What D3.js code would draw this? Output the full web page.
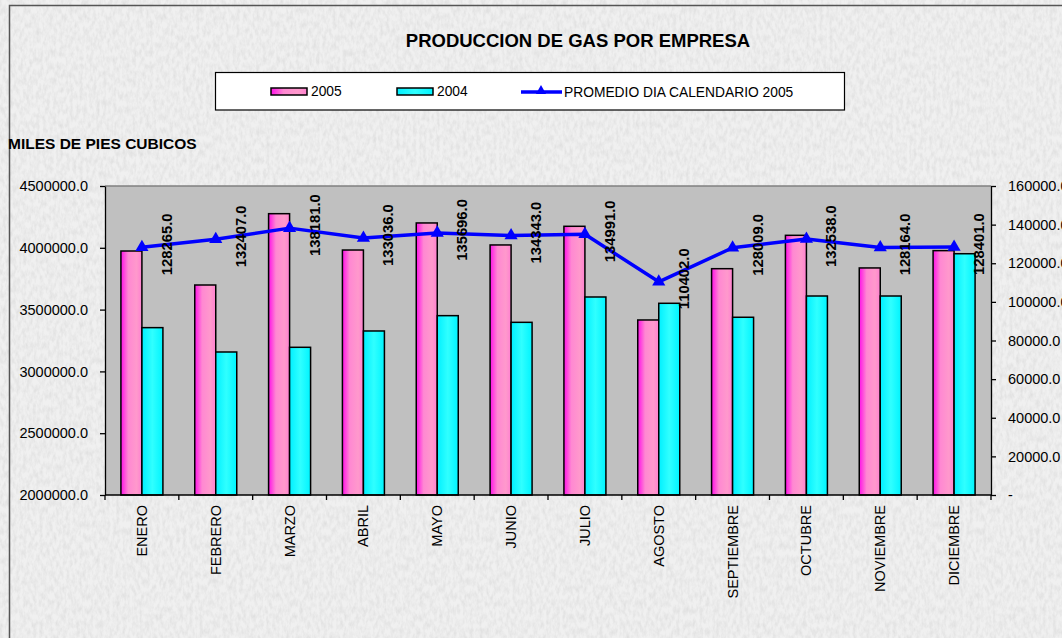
<!DOCTYPE html>
<html>
<head>
<meta charset="utf-8">
<script src="https://cdn.jsdelivr.net/npm/d3@7"></script>
<style>
  body { margin: 0; background: #ececec; overflow: hidden; }
  svg { display: block; font-family: "Liberation Sans", Arial, sans-serif; }
</style>
</head>
<body>
<div id="chart"></div>
<script>
const months = ["ENERO", "FEBRERO", "MARZO", "ABRIL", "MAYO", "JUNIO", "JULIO",
                "AGOSTO", "SEPTIEMBRE", "OCTUBRE", "NOVIEMBRE", "DICIEMBRE"];
const prod2005 = [3974000, 3699000, 4276000, 3982000, 4201000, 4023000, 4174000,
                  3416000, 3831000, 4101000, 3837000, 3977000];
const prod2004 = [3354000, 3157000, 3195000, 3327000, 3451000, 3397000, 3602000,
                  3551000, 3438000, 3610000, 3610000, 3952000];
const promedio = [128265, 132407, 138181, 133036, 135696, 134343, 134991,
                  110402, 128009, 132538, 128164, 128401];
const leftTicks = [2000000, 2500000, 3000000, 3500000, 4000000, 4500000];
const rightTicks = [0, 20000, 40000, 60000, 80000, 100000, 120000, 140000, 160000];

const W = 1062, H = 638;
const plot = {left: 105, right: 991, top: 186, bottom: 495};

const svg = d3.select("#chart").append("svg")
  .attr("width", W).attr("height", H)
  .style("overflow", "visible");

const defs = svg.append("defs");

// granite-ish paper texture
const f = defs.append("filter").attr("id", "grain")
  .attr("x", 0).attr("y", 0).attr("width", "100%").attr("height", "100%");
f.append("feTurbulence").attr("type", "fractalNoise")
  .attr("baseFrequency", "0.3 0.14").attr("numOctaves", 3).attr("seed", 11);
f.append("feColorMatrix").attr("type", "matrix")
  .attr("values", "0 0 0 0 0.6  0 0 0 0 0.6  0 0 0 0 0.6  0.8 0 0 0 -0.28");

const gPink = defs.append("linearGradient").attr("id", "pink")
  .attr("x1", 0).attr("x2", 1).attr("y1", 0).attr("y2", 0);
gPink.append("stop").attr("offset", "0%").attr("stop-color", "#ff10e8");
gPink.append("stop").attr("offset", "35%").attr("stop-color", "#ff88d2");
gPink.append("stop").attr("offset", "75%").attr("stop-color", "#ff99cc");
gPink.append("stop").attr("offset", "100%").attr("stop-color", "#ff80d0");

const gCyan = defs.append("linearGradient").attr("id", "cyan")
  .attr("x1", 0).attr("x2", 1).attr("y1", 0).attr("y2", 0);
gCyan.append("stop").attr("offset", "0%").attr("stop-color", "#00f0ff");
gCyan.append("stop").attr("offset", "50%").attr("stop-color", "#30ffff");
gCyan.append("stop").attr("offset", "100%").attr("stop-color", "#00f4ff");

// background
svg.append("rect").attr("width", W).attr("height", H).attr("fill", "#f0f0f0");
svg.append("rect").attr("width", W).attr("height", H).attr("filter", "url(#grain)");
svg.append("path")
  .attr("d", `M9.5,${H} V5.5 H${W}`)
  .attr("fill", "none").attr("stroke", "#555").attr("stroke-width", 1.5);

// title
svg.append("text")
  .attr("x", 578).attr("y", 47)
  .attr("text-anchor", "middle")
  .attr("font-size", 18.5).attr("font-weight", "bold")
  .text("PRODUCCION DE GAS POR EMPRESA");

svg.append("text")
  .attr("x", 8).attr("y", 148.5)
  .attr("font-size", 15.5).attr("font-weight", "bold")
  .text("MILES DE PIES CUBICOS");

// scales
const x = d3.scaleBand().domain(months).range([plot.left, plot.right]);
const x1 = d3.scaleBand().domain(["2005", "2004"]).range([0, 42]);
const yL = d3.scaleLinear().domain([2000000, 4500000]).range([plot.bottom, plot.top]);
const yR = d3.scaleLinear().domain([0, 160000]).range([plot.bottom, plot.top]);
const cx = m => x(m) + x.bandwidth() / 2;

// plot area
svg.append("rect")
  .attr("x", plot.left).attr("y", plot.top)
  .attr("width", plot.right - plot.left).attr("height", plot.bottom - plot.top)
  .attr("fill", "#c0c0c0");
svg.append("line")
  .attr("x1", plot.left).attr("x2", plot.right)
  .attr("y1", plot.top).attr("y2", plot.top)
  .attr("stroke", "#808080").attr("stroke-width", 1.5);

// bars
const rows = months.map((m, i) => ({m, v05: prod2005[i], v04: prod2004[i]}));
const groups = svg.append("g").selectAll("g")
  .data(rows).enter().append("g")
  .attr("transform", d => `translate(${cx(d.m) - 21},0)`);

groups.append("rect")
  .attr("x", x1("2005")).attr("width", x1.bandwidth())
  .attr("y", d => yL(d.v05)).attr("height", d => plot.bottom - yL(d.v05))
  .attr("fill", "url(#pink)").attr("stroke", "#000").attr("stroke-width", 1.5);

groups.append("rect")
  .attr("x", x1("2004")).attr("width", x1.bandwidth())
  .attr("y", d => yL(d.v04)).attr("height", d => plot.bottom - yL(d.v04))
  .attr("fill", "url(#cyan)").attr("stroke", "#000").attr("stroke-width", 1.5);

// axes
const fmt = d3.format(".1f");
const axL = svg.append("g")
  .attr("transform", `translate(${plot.left},0)`)
  .call(d3.axisLeft(yL).tickValues(leftTicks).tickFormat(fmt)
    .tickSize(5).tickSizeOuter(0).tickPadding(12));
const axR = svg.append("g")
  .attr("transform", `translate(${plot.right},0)`)
  .call(d3.axisRight(yR).tickValues(rightTicks)
    .tickFormat(d => d === 0 ? "-" : fmt(d))
    .tickSize(5).tickSizeOuter(0).tickPadding(12));
[axL, axR].forEach(a => {
  a.selectAll("text").attr("font-size", 14.5).attr("fill", "#000")
    .attr("font-family", "Liberation Sans, Arial, sans-serif");
  a.selectAll("line, path").attr("stroke", "#000").attr("stroke-width", 1.3);
});

// category axis
const bottom = svg.append("g");
bottom.append("line")
  .attr("x1", plot.left).attr("x2", plot.right)
  .attr("y1", plot.bottom).attr("y2", plot.bottom)
  .attr("stroke", "#000").attr("stroke-width", 1.3);
bottom.selectAll(".tk")
  .data(d3.range(months.length + 1)).enter().append("line")
  .attr("x1", i => plot.left + i * x.step()).attr("x2", i => plot.left + i * x.step())
  .attr("y1", plot.bottom).attr("y2", plot.bottom + 5)
  .attr("stroke", "#000").attr("stroke-width", 1.3);
bottom.selectAll(".lbl")
  .data(months).enter().append("text")
  .attr("transform", m => `translate(${cx(m)},505) rotate(-90)`)
  .attr("text-anchor", "end").attr("dominant-baseline", "central")
  .attr("font-size", 14.5)
  .text(m => m);

// line series
const line = d3.line()
  .x((d, i) => cx(months[i]))
  .y(d => yR(d));

svg.append("path")
  .datum(promedio)
  .attr("d", line)
  .attr("fill", "none").attr("stroke", "#0000ff").attr("stroke-width", 3.5)
  .attr("stroke-linejoin", "round");

const tri = d3.symbol().type(d3.symbolTriangle).size(75);
svg.selectAll(".mk")
  .data(promedio).enter().append("path")
  .attr("d", tri)
  .attr("transform", (d, i) => `translate(${cx(months[i])},${yR(d)})`)
  .attr("fill", "#0000ff");

svg.selectAll(".dl")
  .data(promedio).enter().append("text")
  .attr("transform", (d, i) => `translate(${cx(months[i]) + 25},${yR(d) - 3}) rotate(-90)`)
  .attr("text-anchor", "middle").attr("dominant-baseline", "central")
  .attr("font-size", 14.8).attr("font-weight", "bold")
  .text(d => fmt(d));

// legend
const lg = svg.append("g");
lg.append("rect")
  .attr("x", 215.5).attr("y", 72.5).attr("width", 629).attr("height", 37.5)
  .attr("fill", "#fff").attr("stroke", "#000").attr("stroke-width", 1.2);

const legendItems = [
  {label: "2005", fill: "url(#pink)", x: 271},
  {label: "2004", fill: "url(#cyan)", x: 397}
];
legendItems.forEach(it => {
  lg.append("rect")
    .attr("x", it.x).attr("y", 88).attr("width", 36).attr("height", 7)
    .attr("fill", it.fill).attr("stroke", "#000").attr("stroke-width", 1.5);
  lg.append("text")
    .attr("x", it.x + 40).attr("y", 96)
    .attr("font-size", 13.8)
    .text(it.label);
});
lg.append("line")
  .attr("x1", 521).attr("x2", 562).attr("y1", 92).attr("y2", 92)
  .attr("stroke", "#0000ff").attr("stroke-width", 3.5);
lg.append("path")
  .attr("d", d3.symbol().type(d3.symbolTriangle).size(45))
  .attr("transform", "translate(541,91)")
  .attr("fill", "#0000ff");
lg.append("text")
  .attr("x", 564).attr("y", 97)
  .attr("font-size", 13.8)
  .text("PROMEDIO DIA CALENDARIO 2005");
</script>
</body>
</html>
